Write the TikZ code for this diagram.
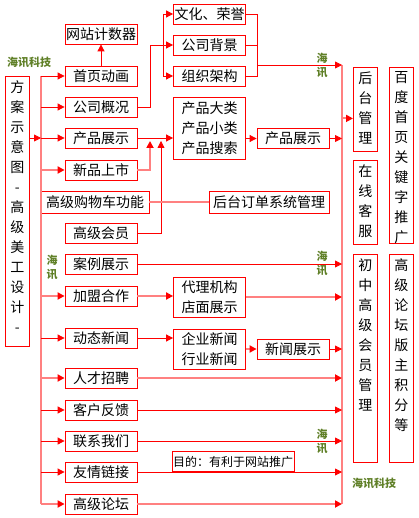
\documentclass[tikz,border=0pt]{standalone}
\usepackage{fontspec}
\setmainfont{Noto Sans CJK SC}
\usepackage{tikz}
\usetikzlibrary{arrows.meta, calc}
\definecolor{lred}{RGB}{255,128,128}
\definecolor{hxgreen}{RGB}{96,128,40}
\newcommand{\vtext}[2]{\parbox[c][#1][t]{24pt}{\centering\vspace{4pt}#2}}
\tikzset{
  box/.style={
    rectangle, draw=red, fill=white, line width=0.8pt,
    minimum width=72pt, minimum height=20pt, inner sep=1pt,
    font=\fontsize{14}{20}\selectfont, align=center
  },
  vbox/.style={
    rectangle, draw=red, fill=white, line width=0.8pt,
    inner sep=0pt, anchor=north west, font=\fontsize{14}{20}\selectfont
  },
  brand/.style={text=hxgreen, font=\fontsize{11}{14}\selectfont\bfseries, inner sep=0pt, align=center},
  rline/.style={draw=red, line width=0.8pt},
  lline/.style={draw=lred, line width=1.8pt},
  rarr/.style={rline, -{Triangle[length=7pt,width=7pt]}},
  larr/.style={lline, -{Triangle[length=7pt,width=7pt,color=red]}},
}

\begin{document}
\begin{tikzpicture}[x=1pt, y=-1pt]
    \useasboundingbox (0,0) rectangle (418,518);

    %% left column
    \node[vbox] (fangan) at (5,76) {\vtext{270pt}{方\\案\\示\\意\\图\\-\\高\\级\\美\\工\\设\\计\\-}};
    \node[box] (jishu) at (101,34) {网站计数器};
    \node[box] (shouye) at (101,76) {首页动画};
    \node[box] (gaikuang) at (101,107) {公司概况};
    \node[box] (chanpin) at (101,138) {产品展示};
    \node[box] (xinpin) at (101,170) {新品上市};
    \node[box, minimum width=108pt, minimum height=22pt] (gouwu) at (95,202) {高级购物车功能};
    \node[box] (huiyuan) at (101,233) {高级会员};
    \node[box] (anli) at (101,264) {案例展示};
    \node[box] (jiameng) at (101,296) {加盟合作};
    \node[box] (dongtai) at (101,338) {动态新闻};
    \node[box] (zhaopin) at (101,378) {人才招聘};
    \node[box] (fankui) at (101,410) {客户反馈};
    \node[box] (lianxi) at (101,441) {联系我们};
    \node[box] (youqing) at (101,472) {友情链接};
    \node[box] (luntan) at (101,504) {高级论坛};

    %% middle columns
    \node[box] (wenhua) at (209.5,14) {文化、荣誉};
    \node[box] (beijing) at (209.5,45) {公司背景};
    \node[box] (jiagou) at (209.5,76) {组织架构};
    \node[box, minimum height=62pt] (fenlei) at (209.5,128) {产品大类\\产品小类\\产品搜索};
    \node[box] (chanpin2) at (293,138.5) {产品展示};
    \node[box, minimum width=120pt, minimum height=22pt] (dingdan) at (269,202) {后台订单系统管理};
    \node[box, minimum height=40pt] (daili) at (209.5,297) {代理机构\\店面展示};
    \node[box, minimum height=40pt] (xinwen) at (209.5,349) {企业新闻\\行业新闻};
    \node[box] (xwzs) at (293,349) {新闻展示};
    \node[box, minimum width=120pt, font=\fontsize{12}{14}\selectfont] (mudi) at (233,461.5) {目的：有利于网站推广};

    %% right column
    \node[vbox] (houtai) at (353,67) {\vtext{84pt}{后\\台\\管\\理}};
    \node[vbox] (kefu) at (353,160) {\vtext{84pt}{在\\线\\客\\服}};
    \node[vbox] (guanli) at (353,254) {\vtext{208pt}{初\\中\\高\\级\\会\\员\\管\\理}};
    \node[vbox] (baidu) at (389,67) {\vtext{176pt}{百\\度\\首\\页\\关\\键\\字\\推\\广}};
    \node[vbox] (banzhu) at (389,254) {\vtext{208pt}{高\\级\\论\\坛\\版\\主\\积\\分\\等}};

    %% trunks
    \coordinate (lt) at (41,76);
    \coordinate (lb) at (41,504);
    \coordinate (rt) at (342,65);
    \coordinate (rb) at (342,504);
    \draw[lline] (lt) -- (lb);
    \draw[lline] (rt) -- (rb);

    %% left trunk arrows
    \draw[rarr] (fangan.east |- chanpin.west) -- (lt |- chanpin.west);
    \foreach \n in {shouye,gaikuang,chanpin,dongtai,fankui,lianxi,youqing}
      \draw[rarr] (lt |- \n.west) -- (\n.west);
    \foreach \n in {xinpin,jiameng,zhaopin,luntan}
      \draw[larr] (lt |- \n.west) -- (\n.west);

    %% top part
    \draw[rarr] (shouye.north) -- (jishu.south);
    \coordinate (fork) at (163,45);
    \draw[rline] (gaikuang.east) -- ++(13,0) |- (fork);
    \draw[rline] (fork |- wenhua.west) -- (fork |- jiagou.west);
    \foreach \n in {wenhua,beijing,jiagou}
      \draw[rarr] (fork |- \n.west) -- (\n.west);
    \coordinate (join) at (257,65);
    \draw[rline] (wenhua.east) -| (join |- jiagou.east) -- (jiagou.east);
    \draw[rline] (beijing.east) -- (join |- beijing.east);
    \draw[rarr] (join) -- (rt);

    %% products
    \coordinate (up1) at (150,141);
    \coordinate (up2) at (161,141);
    \draw[rarr] (chanpin.east) -- (chanpin.east -| fenlei.west);
    \draw[larr] (xinpin.east) -| (up1);
    \draw[rarr] (huiyuan.east) -| (up2);
    \draw[rarr] (fenlei.east |- chanpin2.west) -- (chanpin2.west);
    \draw[lline] (gouwu.east) -- (dingdan.west);

    %% lower part
    \draw[larr] (jiameng.east) -- (jiameng.east -| daili.west);
    \draw[rarr] (dongtai.east) -- (dongtai.east -| xinwen.west);
    \draw[larr] (xinwen.east |- xwzs.west) -- (xwzs.west);

    %% right trunk arrows
    \foreach \n in {chanpin2,anli,xwzs,fankui,lianxi,youqing}
      \draw[rarr] (\n.east) -- (rt |- \n.east);
    \foreach \n in {daili,zhaopin,luntan}
      \draw[larr] (\n.east) -- (rt |- \n.east);
    \draw[larr] ([yshift=-9pt]rt |- houtai.west) -- ([yshift=-9pt]houtai.west);

    %% brand labels
    \node[brand] (hx1) at (29,62) {海讯科技};
    \node[brand] (hx2) at (374,483) {海讯科技};
    \node[brand] (hx3) at (322,65) {海\\讯};
    \node[brand] (hx4) at (52,267) {海\\讯};
    \node[brand] (hx5) at (322,263) {海\\讯};
    \node[brand] (hx6) at (322,441) {海\\讯};

\end{tikzpicture}
\end{document}
